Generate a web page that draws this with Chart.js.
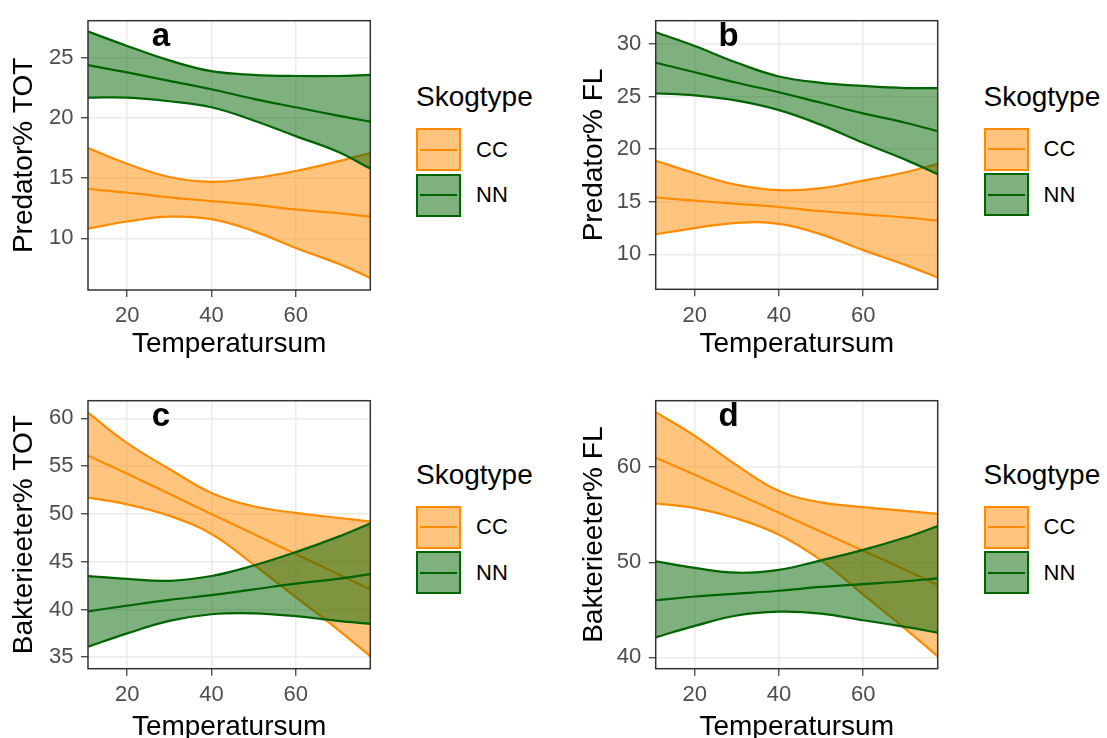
<!DOCTYPE html>
<html>
<head>
<meta charset="utf-8">
<script src="https://cdn.jsdelivr.net/npm/chart.js@4.4.1/dist/chart.umd.min.js"></script>
<style>
    html, body { margin: 0; padding: 0; background: #fff; overflow: hidden; }
    body { width: 1107px; height: 738px; position: relative; font-family: 'Liberation Sans', Arial, sans-serif; }
    canvas { position: absolute; }
    .legend { position: absolute; }
    .legend .title { position: absolute; left: 0; top: -45px; font-size: 28px; line-height: 28px; color: #000; white-space: nowrap; }
    .legend .key { display: flex; align-items: center; height: 43px; margin-bottom: 2.7px; }
    .legend .box { position: relative; width: 41px; height: 39px; border: 2px solid; }
    .legend .box::after { content: ''; position: absolute; left: 2px; right: 2px; top: 18.5px; height: 2px; background: var(--line); }
    .legend .lab { margin-left: 15px; font-size: 22px; color: #000; }
</style>
</head>
<body>
<canvas id="chartA" width="380" height="370" style="left:0px;top:0px"></canvas>
<canvas id="chartB" width="378" height="370" style="left:570px;top:0px"></canvas>
<canvas id="chartC" width="380" height="373" style="left:0px;top:380px"></canvas>
<canvas id="chartD" width="378" height="373" style="left:570px;top:380px"></canvas>

<script>
// x positions (Temperatursum) the curves are read at
var temps = [10.7, 20, 30, 40, 50, 60, 70, 77.7];
var xTicks = [20, 40, 60];
var groups = ['CC', 'NN'];
var lineColors = ['#FF8C00', '#006400'];
var fillColors = ['rgba(255,140,0,0.5)', 'rgba(0,100,0,0.5)'];

// panel a: Predator% TOT
var ccUpA  = [17.5, 16.2, 15.1, 14.7, 15.0, 15.6, 16.4, 17.1];
var ccFitA = [14.1, 13.8, 13.4, 13.1, 12.8, 12.4, 12.1, 11.8];
var ccLoA  = [10.8, 11.4, 11.8, 11.6, 10.6, 9.2, 7.9, 6.7];
var nnUpA  = [27.2, 26.0, 24.8, 23.9, 23.6, 23.5, 23.5, 23.6];
var nnFitA = [24.4, 23.8, 23.1, 22.4, 21.6, 20.9, 20.2, 19.7];
var nnLoA  = [21.7, 21.7, 21.4, 20.9, 19.8, 18.5, 17.2, 15.8];
var yTicksA = [10, 15, 20, 25];

// panel b: Predator% FL
var ccUpB  = [18.9, 17.7, 16.6, 16.1, 16.3, 17.0, 17.8, 18.6];
var ccFitB = [15.4, 15.1, 14.8, 14.5, 14.1, 13.8, 13.5, 13.2];
var ccLoB  = [11.9, 12.5, 13.0, 12.9, 11.9, 10.4, 9.0, 7.8];
var nnUpB  = [31.1, 29.8, 28.2, 26.9, 26.3, 26.0, 25.8, 25.8];
var nnFitB = [28.2, 27.3, 26.3, 25.4, 24.4, 23.4, 22.5, 21.7];
var nnLoB  = [25.3, 25.1, 24.6, 23.7, 22.3, 20.6, 19.0, 17.6];
var yTicksB = [10, 15, 20, 25, 30];

// panel c: Bakterieeter% TOT
var ccUpC  = [60.6, 57.4, 54.7, 52.2, 50.8, 50.1, 49.6, 49.2];
var ccFitC = [56.1, 54.2, 52.1, 50.0, 47.9, 45.8, 43.7, 42.1];
var ccLoC  = [51.7, 51.0, 49.8, 47.9, 44.7, 41.3, 37.9, 35.1];
var nnUpC  = [43.5, 43.2, 43.0, 43.5, 44.6, 46.0, 47.6, 49.0];
var nnFitC = [39.8, 40.4, 41.0, 41.5, 42.1, 42.7, 43.2, 43.7];
var nnLoC  = [36.1, 37.5, 38.8, 39.5, 39.6, 39.3, 38.8, 38.5];
var yTicksC = [35, 40, 45, 50, 55, 60];

// panel d: Bakterieeter% FL
var ccUpD  = [65.8, 63.3, 60.2, 57.5, 56.3, 55.8, 55.4, 55.1];
var ccFitD = [61.0, 59.2, 57.2, 55.2, 53.2, 51.2, 49.2, 47.6];
var ccLoD  = [56.2, 55.7, 54.6, 52.9, 50.2, 46.6, 43.0, 40.1];
var nnUpD  = [50.1, 49.4, 48.9, 49.2, 50.2, 51.3, 52.6, 53.8];
var nnFitD = [46.0, 46.4, 46.7, 47.0, 47.4, 47.7, 48.0, 48.3];
var nnLoD  = [42.1, 43.3, 44.4, 44.8, 44.6, 43.9, 43.2, 42.6];
var yTicksD = [40, 50, 60];

var letterX = 28;

Chart.defaults.font.family = "'Liberation Sans', Arial, sans-serif";

// panel border drawn on top, like ggplot's theme_bw
var panelBorder = {
    id: 'panelBorder',
    afterDraw: function (chart) {
        var a = chart.chartArea, ctx = chart.ctx;
        ctx.save();
        ctx.strokeStyle = '#333333';
        ctx.lineWidth = 1.5;
        ctx.strokeRect(a.left, a.top, a.right - a.left, a.bottom - a.top);
        ctx.restore();
    }
};

var panelLetter = {
    id: 'panelLetter',
    afterDatasetsDraw: function (chart, args, opts) {
        var ctx = chart.ctx;
        ctx.save();
        ctx.font = "bold 33px 'Liberation Sans', Arial, sans-serif";
        ctx.fillStyle = '#000';
        ctx.textAlign = 'center';
        ctx.textBaseline = 'alphabetic';
        ctx.fillText(opts.text, chart.scales.x.getPixelForValue(letterX), chart.chartArea.top + 25);
        ctx.restore();
    }
};

function toPoints(vals) {
    return vals.map(function (v, i) { return { x: temps[i], y: v }; });
}

function band(vals, g, fill, order) {
    return {
        data: toPoints(vals),
        borderColor: lineColors[g],
        backgroundColor: fillColors[g],
        borderWidth: 2.2,
        pointRadius: 0,
        tension: 0.4,
        fill: fill,
        order: order
    };
}

function makePanel(id, box, plot, series, yTicks, yMin, yMax, yTitle, letter) {
    var ctx = document.getElementById(id).getContext('2d');
    var datasets = [];
    series.forEach(function (s, g) {
        var base = (1 - g) * 3;
        datasets.push(band(s[0], g, '+1', base + 2));   // upper, filled to lower
        datasets.push(band(s[2], g, false, base + 1));  // lower
        datasets.push(band(s[1], g, false, base));      // fit
    });

    var tickFont = { size: 22 };
    return new Chart(ctx, {
        type: 'line',
        data: { datasets: datasets },
        options: {
            responsive: false,
            animation: false,
            devicePixelRatio: 1,
            layout: { padding: { top: plot.t - box.t, right: box.l + box.w - plot.r, left: 0, bottom: 0 } },
            plugins: {
                legend: { display: false },
                tooltip: { enabled: false },
                panelLetter: { text: letter }
            },
            scales: {
                x: {
                    type: 'linear',
                    min: temps[0],
                    max: temps[temps.length - 1],
                    afterBuildTicks: function (s) { s.ticks = xTicks.map(function (v) { return { value: v }; }); },
                    afterFit: function (s) { s.height = box.t + box.h - plot.b; },
                    ticks: { font: tickFont, color: '#4D4D4D', padding: 6, maxRotation: 0 },
                    grid: { color: '#EBEBEB', lineWidth: 1.5, tickColor: '#333333', tickLength: 7, tickWidth: 1.2 },
                    border: { display: false },
                    title: { display: true, text: 'Temperatursum', color: '#000', font: { size: 28 }, padding: { top: 0, bottom: 8.6 } }
                },
                y: {
                    type: 'linear',
                    min: yMin,
                    max: yMax,
                    afterBuildTicks: function (s) { s.ticks = yTicks.map(function (v) { return { value: v }; }); },
                    afterFit: function (s) { s.width = plot.l - box.l; },
                    ticks: { font: tickFont, color: '#4D4D4D', padding: 7.5 },
                    grid: { color: '#EBEBEB', lineWidth: 1.5, tickColor: '#333333', tickLength: 7, tickWidth: 1.2 },
                    border: { display: false },
                    title: { display: true, text: yTitle, color: '#000', font: { size: 28 }, padding: { top: 7.8, bottom: 0 } }
                }
            }
        },
        plugins: [panelLetter, panelBorder]
    });
}

function makeLegend(left, top) {
    var div = document.createElement('div');
    div.className = 'legend';
    div.style.left = left + 'px';
    div.style.top = top + 'px';
    var t = document.createElement('div');
    t.className = 'title';
    t.textContent = 'Skogtype';
    div.appendChild(t);
    groups.forEach(function (name, g) {
        var row = document.createElement('div');
        row.className = 'key';
        var b = document.createElement('div');
        b.className = 'box';
        b.style.borderColor = lineColors[g];
        b.style.background = fillColors[g];
        b.style.setProperty('--line', lineColors[g]);
        var lab = document.createElement('span');
        lab.className = 'lab';
        lab.textContent = name;
        row.appendChild(b);
        row.appendChild(lab);
        div.appendChild(row);
    });
    document.body.appendChild(div);
}

makePanel('chartA', { l: 0, t: 0, w: 380, h: 370 }, { l: 88, t: 13, r: 370.3, b: 290 },
    [[ccUpA, ccFitA, ccLoA], [nnUpA, nnFitA, nnLoA]], yTicksA, 5.7, 28.1, 'Predator% TOT', 'a');
makePanel('chartB', { l: 570, t: 0, w: 378, h: 370 }, { l: 655.7, t: 12.7, r: 937.7, b: 289.3 },
    [[ccUpB, ccFitB, ccLoB], [nnUpB, nnFitB, nnLoB]], yTicksB, 6.68, 32.2, 'Predator% FL', 'b');
makePanel('chartC', { l: 0, t: 380, w: 380, h: 373 }, { l: 88, t: 391.7, r: 370.3, b: 668.7 },
    [[ccUpC, ccFitC, ccLoC], [nnUpC, nnFitC, nnLoC]], yTicksC, 33.8, 61.85, 'Bakterieeter% TOT', 'c');
makePanel('chartD', { l: 570, t: 380, w: 378, h: 373 }, { l: 655.7, t: 391, r: 937.7, b: 668.7 },
    [[ccUpD, ccFitD, ccLoD], [nnUpD, nnFitD, nnLoD]], yTicksD, 38.8, 67.0, 'Bakterieeter% FL', 'd');

makeLegend(416, 128.3);
makeLegend(983.5, 127.7);
makeLegend(416, 505.7);
makeLegend(983.5, 505.5);
</script>
</body>
</html>
